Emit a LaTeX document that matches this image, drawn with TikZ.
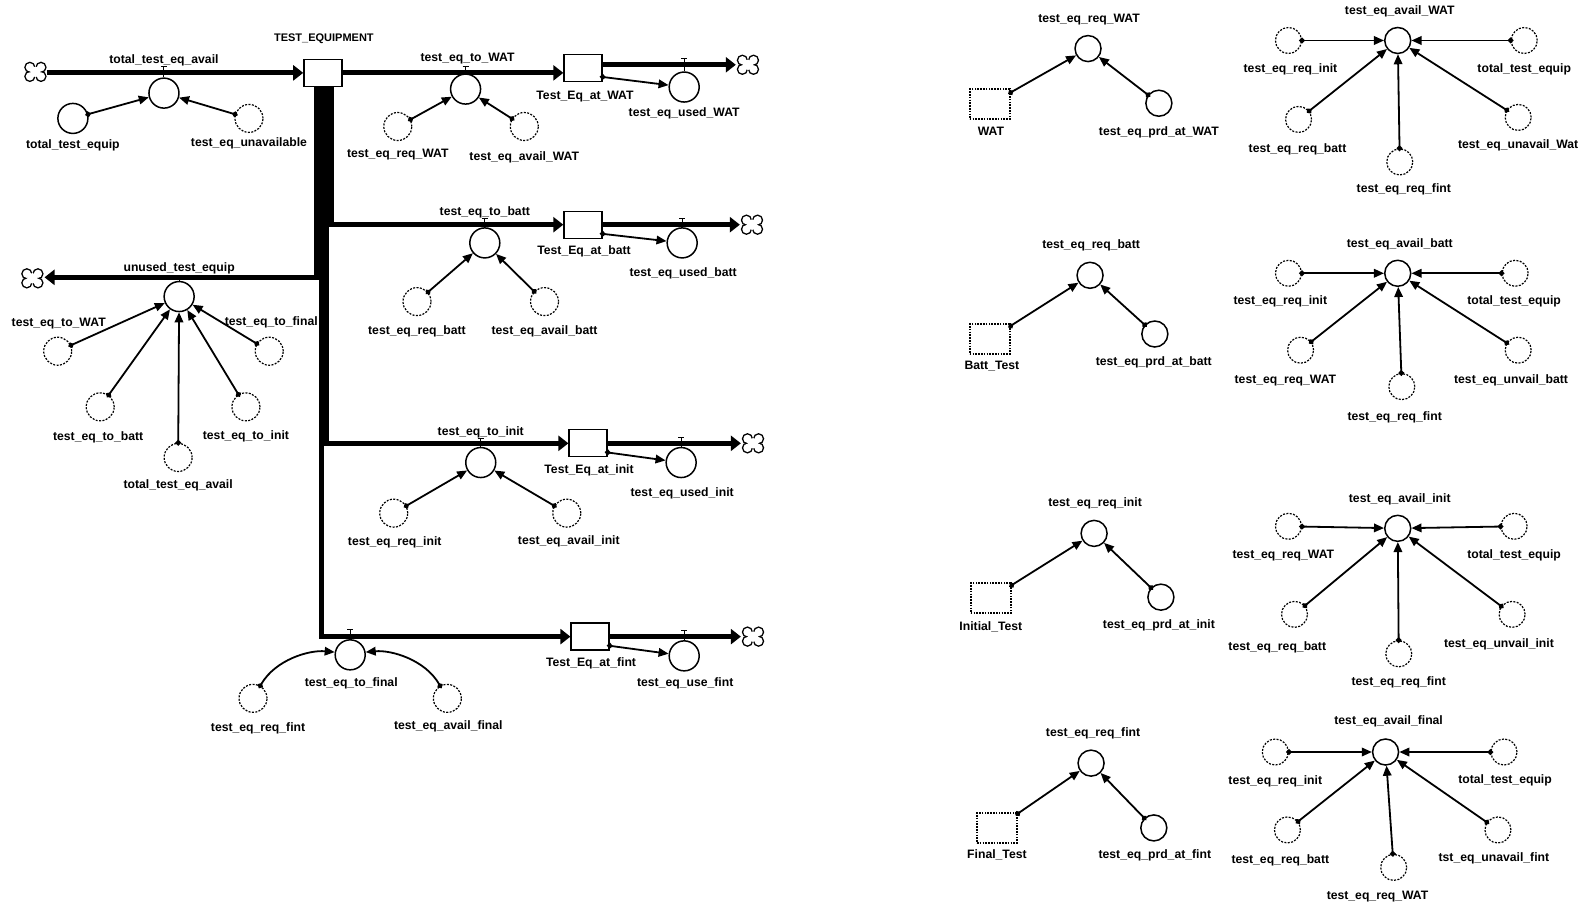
\documentclass[tikz,border=0pt]{standalone}
\usepackage{fontspec}
\setmainfont{Liberation Sans}
\usetikzlibrary{arrows.meta}
\tikzset{
 lbl/.style={font=\fontsize{12.2}{14}\selectfont\bfseries, inner sep=0},
 aux/.style={circle, draw, line width=1.5pt, minimum size=30pt, inner sep=0},
 ghost/.style={circle, draw, line width=1.2pt, dash pattern=on 2pt off 1.4pt, minimum size=28pt, inner sep=0},
 sml/.style={minimum size=26pt},
 stock/.style={rectangle, draw, line width=1.3pt, minimum width=38pt, minimum height=27pt, inner sep=0, fill=white},
 gstock/.style={rectangle, draw, line width=1.7pt, dash pattern=on 1.6pt off 1.2pt, minimum width=40pt, minimum height=30pt, inner sep=0},
 conn/.style={line width=1.8pt, {Circle[length=5.5pt]}-{Triangle[length=10pt,width=8.5pt]}, shorten <=-2.7pt},
 pipe/.style={line width=5pt, line join=miter, -{Triangle[length=10pt,width=15pt]}},
 valve/.style={line width=1pt},
 cloud/.pic={
   \foreach \p in {(-5.5,-4.5),(5.5,-4.5),(-5.5,4.5),(5.5,4.5)} \fill[black] \p circle (5.6);
   \foreach \p in {(-5.5,-4.5),(5.5,-4.5),(-5.5,4.5),(5.5,4.5)} \fill[white] \p circle (4.1);
   \fill[white] (0,0) circle (5.2);
 }
}
\begin{document}
\begin{tikzpicture}[x=1.012pt,y=-1.012pt]
\useasboundingbox[fill=white] (0,0) rectangle (1568,896);

% ===================== LEFT: stock & flow =====================
\node[stock] (TE) at (319,72) {};
\node[lbl, font=\fontsize{11}{13}\selectfont\bfseries] (lTE) at (320,38) {TEST\_EQUIPMENT};

% inflow
\pic at (35,71) {cloud};
\coordinate (c0) at (46,72);
\draw[pipe] (c0) -- (TE.west);
\node[aux] (r0) at (162,92) {};
\node[lbl] (lr0) at (162,60) {total\_test\_eq\_avail};
\draw[valve] (159,66) -- (165,66) (162,66) -- (r0.north);
\node[aux] (a0) at (72,117) {};
\node[lbl] (la0) at (72,144) {total\_test\_equip};
\node[ghost] (g0) at (246,117) {};
\node[lbl] (lg0) at (246,142) {test\_eq\_unavailable};
\draw[conn] (a0) -- (r0);
\draw[conn] (g0) -- (r0);

% ---------- WAT branch ----------
\node[stock] (SW) at (576,67) {};
\node[lbl] (lSW) at (578,95) {Test\_Eq\_at\_WAT};
\draw[pipe] (TE.east) -- (SW.west |- TE.east);
\node[aux] (rW) at (460,88) {};
\node[lbl] (lrW) at (462,58) {test\_eq\_to\_WAT};
\draw[valve] (457,66) -- (463,66) (460,66) -- (rW.north);
\node[ghost] (gW1) at (393,125) {};
\node[lbl] (lgW1) at (393,153) {test\_eq\_req\_WAT};
\node[ghost] (gW2) at (518,125) {};
\node[lbl] (lgW2) at (518,155) {test\_eq\_avail\_WAT};
\draw[conn] (gW1) -- (rW);
\draw[conn] (gW2) -- (rW);
\pic at (739,64) {cloud};
\coordinate (cW) at (727,64);
\draw[pipe] (SW.east |- cW) -- (cW);
\node[aux] (uW) at (676,86) {};
\node[lbl] (luW) at (676,112) {test\_eq\_used\_WAT};
\draw[valve] (673,58) -- (679,58) (676,58) -- (uW.north);
\draw[conn] (SW.-25) -- (uW);

% ---------- batt branch ----------
\node[stock] (SB) at (576,222) {};
\node[lbl] (lSB) at (577,248) {Test\_Eq\_at\_batt};
\draw[pipe] ([xshift=9pt]TE.south) |- (SB.west);
\node[aux] (rB) at (479,240) {};
\node[lbl] (lrB) at (479,210) {test\_eq\_to\_batt};
\draw[valve] (476,216) -- (482,216) (479,216) -- (rB.north);
\node[ghost] (gB1) at (412,298) {};
\node[lbl] (lgB1) at (412,327) {test\_eq\_req\_batt};
\node[ghost] (gB2) at (538,298) {};
\node[lbl] (lgB2) at (538,327) {test\_eq\_avail\_batt};
\draw[conn] (gB1) -- (rB);
\draw[conn] (gB2) -- (rB);
\pic at (743,222) {cloud};
\coordinate (cB) at (731,222);
\draw[pipe] (SB.east) -- (cB);
\node[aux] (uB) at (674,240) {};
\node[lbl] (luB) at (675,270) {test\_eq\_used\_batt};
\draw[valve] (671,216) -- (677,216) (674,216) -- (uB.north);
\draw[conn] (SB.-25) -- (uB);

% ---------- unused branch ----------
\pic at (32,275) {cloud};
\coordinate (cU) at (44,274);
\draw[pipe] ([xshift=-6pt]TE.south) |- (cU);
\node[aux] (rU) at (177,293) {};
\node[lbl] (lrU) at (177,265) {unused\_test\_equip};
\draw[valve] (rU.north) -- (177,274);
\node[ghost] (gU1) at (57,347) {};
\node[lbl] (lgU1) at (58,320) {test\_eq\_to\_WAT};
\node[ghost] (gU2) at (266,347) {};
\node[lbl] (lgU2) at (268,318) {test\_eq\_to\_final};
\node[ghost] (gU3) at (99,402) {};
\node[lbl] (lgU3) at (97,432) {test\_eq\_to\_batt};
\node[ghost] (gU4) at (243,402) {};
\node[lbl] (lgU4) at (243,431) {test\_eq\_to\_init};
\node[ghost] (gU5) at (176,452) {};
\node[lbl] (lgU5) at (176,480) {total\_test\_eq\_avail};
\draw[conn] (gU1) -- (rU);
\draw[conn] (gU2) -- (rU);
\draw[conn] (gU3) -- (rU);
\draw[conn] (gU4) -- (rU);
\draw[conn] (gU5) -- (rU);

% ---------- init branch ----------
\node[stock] (SI) at (581,438) {};
\node[lbl] (lSI) at (582,465) {Test\_Eq\_at\_init};
\draw[pipe] ([xshift=4pt]TE.south) |- (SI.west);
\node[aux] (rI) at (475,457) {};
\node[lbl] (lrI) at (475,427) {test\_eq\_to\_init};
\draw[valve] (472,433) -- (478,433) (475,433) -- (rI.north);
\node[ghost] (gI1) at (389,507) {};
\node[lbl] (lgI1) at (390,536) {test\_eq\_req\_init};
\node[ghost] (gI2) at (560,507) {};
\node[lbl] (lgI2) at (562,535) {test\_eq\_avail\_init};
\draw[conn] (gI1) -- (rI);
\draw[conn] (gI2) -- (rI);
\pic at (744,438) {cloud};
\coordinate (cI) at (732,438);
\draw[pipe] (SI.east) -- (cI);
\node[aux] (uI) at (673,457) {};
\node[lbl] (luI) at (674,487) {test\_eq\_used\_init};
\draw[valve] (670,432) -- (676,432) (673,432) -- (uI.north);
\draw[conn] (SI.-25) -- (uI);

% ---------- final branch ----------
\node[stock] (SF) at (583,629) {};
\node[lbl] (lSF) at (584,655) {Test\_Eq\_at\_fint};
\draw[pipe] ([xshift=-1pt]TE.south) |- (SF.west);
\node[aux] (rF) at (346,647) {};
\node[lbl] (lrF) at (347,675) {test\_eq\_to\_final};
\draw[valve] (343,622) -- (349,622) (346,622) -- (rF.north);
\node[ghost] (gF1) at (250,690) {};
\node[lbl] (lgF1) at (255,720) {test\_eq\_req\_fint};
\node[ghost] (gF2) at (442,690) {};
\node[lbl] (lgF2) at (443,718) {test\_eq\_avail\_final};
\draw[conn] (gF1.60) .. controls (272,652) and (305,642) .. (rF.170);
\draw[conn] (gF2.120) .. controls (420,652) and (387,642) .. (rF.10);
\pic at (744,629) {cloud};
\coordinate (cF) at (732,629);
\draw[pipe] (SF.east) -- (cF);
\node[aux] (uF) at (676,648) {};
\node[lbl] (luF) at (677,675) {test\_eq\_use\_fint};
\draw[valve] (673,623) -- (679,623) (676,623) -- (uF.north);
\draw[conn] (SF.-25) -- (uF);

% ===================== RIGHT: panels =====================
% --- WAT ---
\node[aux,sml] (qW) at (1075,48) {};
\node[lbl] (lqW) at (1076,19) {test\_eq\_req\_WAT};
\node[gstock] (sqW) at (978,103) {};
\node[lbl] (lsqW) at (979,130) {WAT};
\node[aux,sml] (pW) at (1145,102) {};
\node[lbl] (lpW) at (1145,131) {test\_eq\_prd\_at\_WAT};
\draw[conn] (sqW) -- (qW);
\draw[conn] (pW) -- (qW);

\node[aux,sml] (aW) at (1381,40) {};
\node[lbl] (laW) at (1383,11) {test\_eq\_avail\_WAT};
\node[ghost,sml] (aW1) at (1273,40) {};
\node[lbl] (laW1) at (1275,69) {test\_eq\_req\_init};
\node[ghost,sml] (aW2) at (1506,40) {};
\node[lbl] (laW2) at (1506,69) {total\_test\_equip};
\node[ghost,sml] (aW3) at (1283,118) {};
\node[lbl] (laW3) at (1282,148) {test\_eq\_req\_batt};
\node[ghost,sml] (aW4) at (1500,116) {};
\node[lbl] (laW4) at (1500,144) {test\_eq\_unavail\_Wat};
\node[ghost,sml] (aW5) at (1383,160) {};
\node[lbl] (laW5) at (1387,187) {test\_eq\_req\_fint};
\draw[conn] (aW1) -- (aW);
\draw[conn] (aW2) -- (aW);
\draw[conn] (aW3) -- (aW);
\draw[conn] (aW4) -- (aW);
\draw[conn] (aW5) -- (aW);

% --- batt ---
\node[aux,sml] (qB) at (1077,272) {};
\node[lbl] (lqB) at (1078,242) {test\_eq\_req\_batt};
\node[gstock] (sqB) at (978,335) {};
\node[lbl] (lsqB) at (980,362) {Batt\_Test};
\node[aux,sml] (pB) at (1141,330) {};
\node[lbl] (lpB) at (1140,358) {test\_eq\_prd\_at\_batt};
\draw[conn] (sqB) -- (qB);
\draw[conn] (pB) -- (qB);

\node[aux,sml] (aB) at (1381,270) {};
\node[lbl] (laB) at (1383,241) {test\_eq\_avail\_batt};
\node[ghost,sml] (aB1) at (1273,270) {};
\node[lbl] (laB1) at (1265,298) {test\_eq\_req\_init};
\node[ghost,sml] (aB2) at (1497,270) {};
\node[lbl] (laB2) at (1496,298) {total\_test\_equip};
\node[ghost,sml] (aB3) at (1285,346) {};
\node[lbl] (laB3) at (1270,376) {test\_eq\_req\_WAT};
\node[ghost,sml] (aB4) at (1500,346) {};
\node[lbl] (laB4) at (1493,376) {test\_eq\_unvail\_batt};
\node[ghost,sml] (aB5) at (1385,382) {};
\node[lbl] (laB5) at (1378,412) {test\_eq\_req\_fint};
\draw[conn] (aB1) -- (aB);
\draw[conn] (aB2) -- (aB);
\draw[conn] (aB3) -- (aB);
\draw[conn] (aB4) -- (aB);
\draw[conn] (aB5) -- (aB);

% --- init ---
\node[aux,sml] (qI) at (1081,527) {};
\node[lbl] (lqI) at (1082,497) {test\_eq\_req\_init};
\node[gstock] (sqI) at (979,591) {};
\node[lbl] (lsqI) at (979,619) {Initial\_Test};
\node[aux,sml] (pI) at (1147,590) {};
\node[lbl] (lpI) at (1145,618) {test\_eq\_prd\_at\_init};
\draw[conn] (sqI) -- (qI);
\draw[conn] (pI) -- (qI);

\node[aux,sml] (aI) at (1381,522) {};
\node[lbl] (laI) at (1383,493) {test\_eq\_avail\_init};
\node[ghost,sml] (aI1) at (1273,520) {};
\node[lbl] (laI1) at (1268,549) {test\_eq\_req\_WAT};
\node[ghost,sml] (aI2) at (1496,520) {};
\node[lbl] (laI2) at (1496,549) {total\_test\_equip};
\node[ghost,sml] (aI3) at (1279,607) {};
\node[lbl] (laI3) at (1262,640) {test\_eq\_req\_batt};
\node[ghost,sml] (aI4) at (1494,607) {};
\node[lbl] (laI4) at (1481,637) {test\_eq\_unvail\_init};
\node[ghost,sml] (aI5) at (1382,646) {};
\node[lbl] (laI5) at (1382,674) {test\_eq\_req\_fint};
\draw[conn] (aI1) -- (aI);
\draw[conn] (aI2) -- (aI);
\draw[conn] (aI3) -- (aI);
\draw[conn] (aI4) -- (aI);
\draw[conn] (aI5) -- (aI);

% --- final ---
\node[aux,sml] (qF) at (1078,754) {};
\node[lbl] (lqF) at (1080,725) {test\_eq\_req\_fint};
\node[gstock] (sqF) at (985,818) {};
\node[lbl] (lsqF) at (985,845) {Final\_Test};
\node[aux,sml] (pF) at (1140,818) {};
\node[lbl] (lpF) at (1141,845) {test\_eq\_prd\_at\_fint};
\draw[conn] (sqF) -- (qF);
\draw[conn] (pF) -- (qF);

\node[aux,sml] (aF) at (1369,743) {};
\node[lbl] (laF) at (1372,713) {test\_eq\_avail\_final};
\node[ghost,sml] (aF1) at (1260,743) {};
\node[lbl] (laF1) at (1260,772) {test\_eq\_req\_init};
\node[ghost,sml] (aF2) at (1486,743) {};
\node[lbl] (laF2) at (1487,771) {total\_test\_equip};
\node[ghost,sml] (aF3) at (1272,820) {};
\node[lbl] (laF3) at (1265,850) {test\_eq\_req\_batt};
\node[ghost,sml] (aF4) at (1480,820) {};
\node[lbl] (laF4) at (1476,848) {tst\_eq\_unavail\_fint};
\node[ghost,sml] (aF5) at (1377,857) {};
\node[lbl] (laF5) at (1361,886) {test\_eq\_req\_WAT};
\draw[conn] (aF1) -- (aF);
\draw[conn] (aF2) -- (aF);
\draw[conn] (aF3) -- (aF);
\draw[conn] (aF4) -- (aF);
\draw[conn] (aF5) -- (aF);
\end{tikzpicture}
\end{document}
